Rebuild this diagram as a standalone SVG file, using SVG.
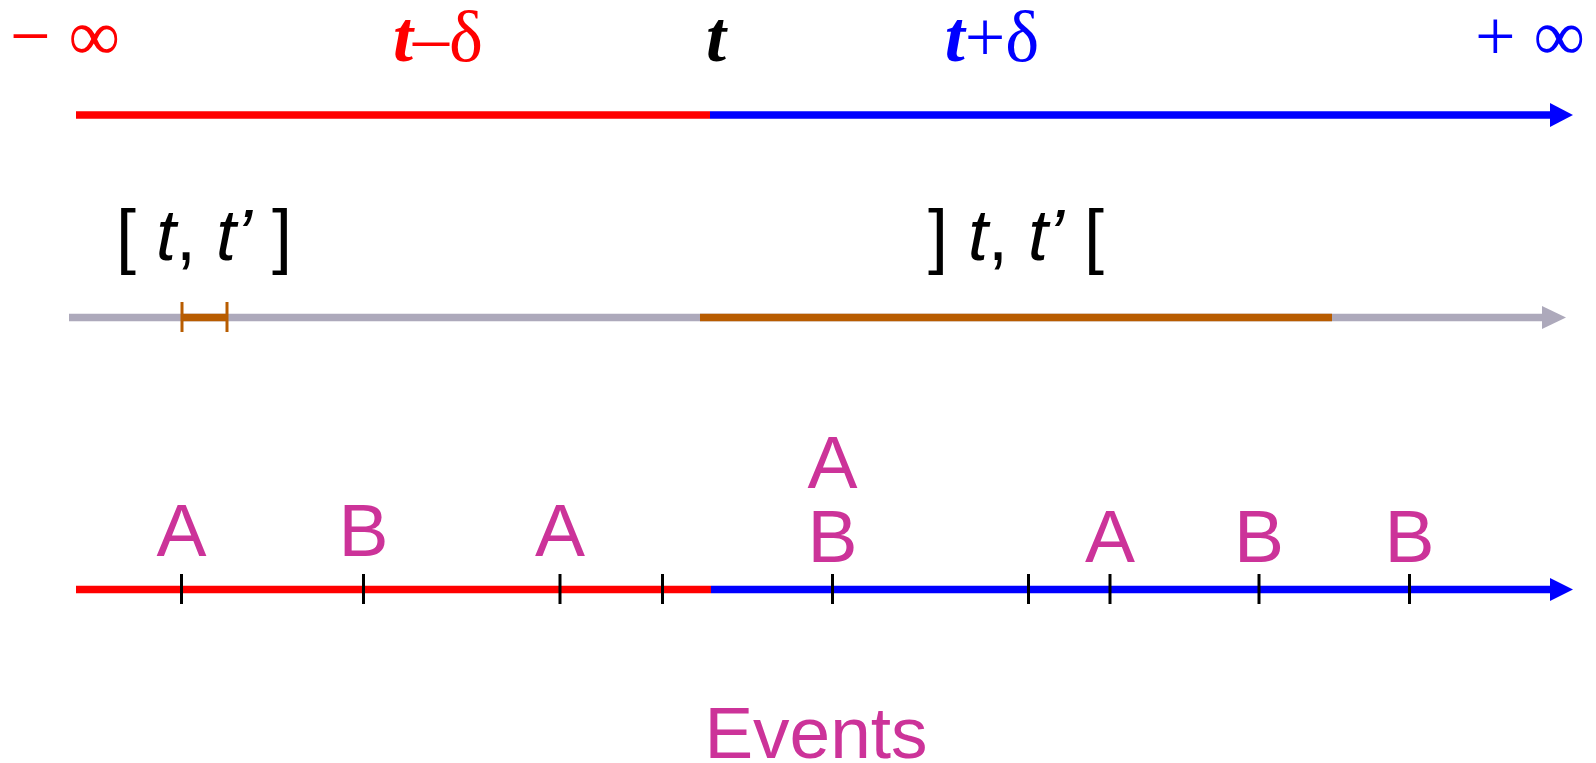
<svg xmlns="http://www.w3.org/2000/svg" width="1596" height="763" viewBox="0 0 1596 763">
<style>
.serif{font-family:"Liberation Serif","Times New Roman",serif;font-size:72px}
.it{font-style:italic;font-weight:bold}
.sans{font-family:"Liberation Sans",Arial,sans-serif}
.iv{font-family:"Liberation Sans",Arial,sans-serif;font-size:72px;fill:#000}
.ev{font-family:"Liberation Sans",Arial,sans-serif;font-size:75px;fill:#CC3399;text-anchor:middle}
.tick{stroke:#000;stroke-width:3}
.otick{stroke:#B85C00;stroke-width:3}
</style>
<rect width="1596" height="763" fill="#fff"/>
<g id="connectors">
  <g id="axis-top">
    <line x1="76" y1="115" x2="710" y2="115" stroke="#FF0000" stroke-width="7.5"/>
    <line x1="710" y1="115" x2="1552" y2="115" stroke="#0000FF" stroke-width="7.5"/>
    <polygon points="1550,103 1573,115 1550,127" fill="#0000FF"/>
  </g>
  <g id="axis-middle">
    <line x1="69" y1="317.5" x2="1544" y2="317.5" stroke="#ADA9BB" stroke-width="7.5"/>
    <polygon points="1542,306 1566,317.5 1542,329" fill="#ADA9BB"/>
    <line x1="700" y1="317.5" x2="1332" y2="317.5" stroke="#B85C00" stroke-width="7.5"/>
    <line x1="182" y1="317.5" x2="227" y2="317.5" stroke="#B85C00" stroke-width="7.5"/>
    <line class="otick" x1="182" y1="302" x2="182" y2="332"/>
    <line class="otick" x1="227" y1="302" x2="227" y2="332"/>
  </g>
  <g id="axis-bottom">
    <line x1="76" y1="589.5" x2="711" y2="589.5" stroke="#FF0000" stroke-width="7.5"/>
    <line x1="711" y1="589.5" x2="1552" y2="589.5" stroke="#0000FF" stroke-width="7.5"/>
    <polygon points="1550,578 1573,589.5 1550,601" fill="#0000FF"/>
    <line class="tick" x1="181.5" y1="574" x2="181.5" y2="604"/>
    <line class="tick" x1="363.5" y1="574" x2="363.5" y2="604"/>
    <line class="tick" x1="560" y1="574" x2="560" y2="604"/>
    <line class="tick" x1="662.5" y1="574" x2="662.5" y2="604"/>
    <line class="tick" x1="832.5" y1="574" x2="832.5" y2="604"/>
    <line class="tick" x1="1028.5" y1="574" x2="1028.5" y2="604"/>
    <line class="tick" x1="1110" y1="574" x2="1110" y2="604"/>
    <line class="tick" x1="1259" y1="574" x2="1259" y2="604"/>
    <line class="tick" x1="1409.5" y1="574" x2="1409.5" y2="604"/>
  </g>
</g>
<g id="label-minus-inf"><text class="serif" x="10" y="60" fill="#FF0000">− ∞</text></g>
<g id="label-t-minus-delta"><text class="serif" x="438" y="61" fill="#FF0000" text-anchor="middle"><tspan class="it">t</tspan>–δ</text></g>
<g id="label-t"><text class="serif it" x="716" y="61" fill="#000" text-anchor="middle">t</text></g>
<g id="label-t-plus-delta"><text class="serif" x="992" y="61" fill="#0000FF" text-anchor="middle"><tspan class="it">t</tspan>+δ</text></g>
<g id="label-plus-inf"><text class="serif" x="1475" y="60" fill="#0000FF">+ ∞</text></g>
<g id="label-closed"><text class="iv" x="116" y="260">[ <tspan font-style="italic">t</tspan>, <tspan font-style="italic">t’</tspan> ]</text></g>
<g id="label-open"><text class="iv" x="928" y="260">] <tspan font-style="italic">t</tspan>, <tspan font-style="italic">t’</tspan> [</text></g>
<g id="events">
  <text class="ev" x="181.5" y="556">A</text>
  <text class="ev" x="363.5" y="556">B</text>
  <text class="ev" x="560" y="556">A</text>
  <text class="ev" x="832.5" y="488">A</text>
  <text class="ev" x="832.5" y="562">B</text>
  <text class="ev" x="1110" y="562">A</text>
  <text class="ev" x="1259" y="562">B</text>
  <text class="ev" x="1409.5" y="562">B</text>
</g>
<g id="label-events"><text class="sans" x="816" y="758" font-size="73" fill="#CC3399" text-anchor="middle">Events</text></g>
</svg>
